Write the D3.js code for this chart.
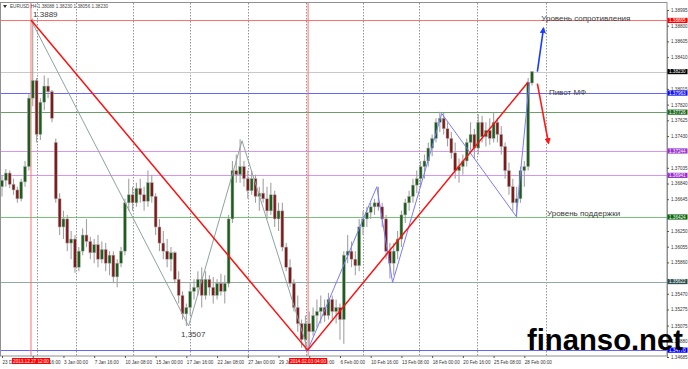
<!DOCTYPE html>
<html>
<head>
<meta charset="utf-8">
<script src="https://cdnjs.cloudflare.com/ajax/libs/d3/7.8.5/d3.min.js"></script>
<style>
  body { margin: 0; background: #fff; }
  svg { display: block; }
  text { font-family: "Liberation Sans", Arial, sans-serif; }
</style>
</head>
<body>
<svg id="chart"></svg>
<script>
// EURUSD H4, one candle = two H4 bars (8h), open/high/low/close
const candles = [
  [1.3680,1.3695,1.3668,1.3688],[1.3688,1.3702,1.3680,1.3697],[1.3697,1.3700,1.3678,1.3683],
  [1.3683,1.3690,1.3670,1.3676],[1.3676,1.3680,1.3660,1.3665],[1.3665,1.3690,1.3662,1.3686],
  [1.3686,1.3712,1.3680,1.3705],[1.3705,1.3795,1.3700,1.3790],[1.3790,1.3889,1.3780,1.3812],
  [1.3812,1.3815,1.3735,1.3745],[1.3745,1.3790,1.3738,1.3785],[1.3785,1.3818,1.3775,1.3805],
  [1.3805,1.3815,1.3790,1.3798],[1.3798,1.3800,1.3760,1.3765],[1.3735,1.3740,1.3660,1.3665],
  [1.3665,1.3672,1.3620,1.3630],[1.3630,1.3650,1.3615,1.3640],[1.3640,1.3645,1.3600,1.3610],
  [1.3610,1.3625,1.3590,1.3615],[1.3615,1.3620,1.3573,1.3580],[1.3580,1.3605,1.3575,1.3600],
  [1.3600,1.3628,1.3595,1.3620],[1.3620,1.3640,1.3605,1.3612],[1.3612,1.3618,1.3590,1.3598],
  [1.3598,1.3615,1.3585,1.3608],[1.3608,1.3620,1.3580,1.3590],[1.3590,1.3612,1.3585,1.3602],
  [1.3602,1.3610,1.3575,1.3585],[1.3585,1.3600,1.3570,1.3595],[1.3595,1.3600,1.3560,1.3568],
  [1.3568,1.3590,1.3555,1.3585],[1.3585,1.3605,1.3580,1.3600],[1.3600,1.3665,1.3595,1.3660],
  [1.3660,1.3690,1.3650,1.3670],[1.3670,1.3680,1.3650,1.3660],[1.3660,1.3685,1.3655,1.3678],
  [1.3678,1.3690,1.3660,1.3670],[1.3670,1.3680,1.3650,1.3662],[1.3662,1.3700,1.3655,1.3685],
  [1.3685,1.3695,1.3660,1.3668],[1.3668,1.3672,1.3620,1.3630],[1.3630,1.3640,1.3600,1.3610],
  [1.3610,1.3625,1.3590,1.3600],[1.3600,1.3615,1.3580,1.3590],[1.3590,1.3605,1.3575,1.3598],
  [1.3598,1.3600,1.3560,1.3565],[1.3565,1.3575,1.3535,1.3545],[1.3545,1.3550,1.3515,1.3522],
  [1.3522,1.3535,1.3507,1.3530],[1.3530,1.3560,1.3520,1.3550],[1.3550,1.3565,1.3540,1.3555],
  [1.3555,1.3575,1.3545,1.3565],[1.3565,1.3580,1.3530,1.3545],[1.3545,1.3575,1.3540,1.3565],
  [1.3565,1.3570,1.3545,1.3555],[1.3555,1.3568,1.3535,1.3545],[1.3545,1.3565,1.3540,1.3560],
  [1.3560,1.3572,1.3545,1.3550],[1.3550,1.3570,1.3535,1.3560],[1.3560,1.3645,1.3555,1.3640],
  [1.3640,1.3712,1.3635,1.3700],[1.3700,1.3720,1.3685,1.3695],[1.3695,1.3739,1.3685,1.3705],
  [1.3705,1.3712,1.3680,1.3690],[1.3690,1.3700,1.3665,1.3675],[1.3675,1.3700,1.3670,1.3690],
  [1.3690,1.3695,1.3660,1.3668],[1.3668,1.3680,1.3650,1.3672],[1.3672,1.3690,1.3660,1.3665],
  [1.3665,1.3680,1.3640,1.3650],[1.3650,1.3685,1.3645,1.3670],[1.3670,1.3675,1.3630,1.3640],
  [1.3640,1.3660,1.3625,1.3650],[1.3650,1.3660,1.3600,1.3605],[1.3605,1.3610,1.3575,1.3580],
  [1.3580,1.3590,1.3555,1.3560],[1.3560,1.3565,1.3525,1.3530],[1.3530,1.3545,1.3500,1.3510],
  [1.3510,1.3515,1.3480,1.3490],[1.3490,1.3520,1.3477,1.3510],[1.3510,1.3525,1.3480,1.3500],
  [1.3500,1.3530,1.3495,1.3520],[1.3520,1.3540,1.3505,1.3525],[1.3525,1.3545,1.3510,1.3530],
  [1.3530,1.3540,1.3512,1.3520],[1.3520,1.3548,1.3515,1.3540],[1.3540,1.3545,1.3515,1.3525],
  [1.3525,1.3540,1.3510,1.3530],[1.3530,1.3535,1.3490,1.3515],[1.3515,1.3600,1.3485,1.3595],
  [1.3595,1.3620,1.3585,1.3600],[1.3600,1.3612,1.3580,1.3590],[1.3590,1.3600,1.3570,1.3582],
  [1.3582,1.3640,1.3575,1.3630],[1.3630,1.3650,1.3620,1.3640],[1.3640,1.3655,1.3630,1.3648],
  [1.3648,1.3660,1.3640,1.3655],[1.3655,1.3665,1.3645,1.3660],[1.3660,1.3680,1.3650,1.3655],
  [1.3655,1.3660,1.3630,1.3640],[1.3640,1.3645,1.3590,1.3600],[1.3600,1.3610,1.3566,1.3585],
  [1.3585,1.3610,1.3570,1.3600],[1.3600,1.3625,1.3590,1.3615],[1.3615,1.3650,1.3605,1.3645],
  [1.3645,1.3665,1.3635,1.3660],[1.3660,1.3675,1.3650,1.3668],[1.3668,1.3690,1.3660,1.3682],
  [1.3682,1.3700,1.3672,1.3690],[1.3690,1.3712,1.3680,1.3705],[1.3705,1.3720,1.3690,1.3712],
  [1.3712,1.3735,1.3705,1.3728],[1.3728,1.3745,1.3718,1.3740],[1.3740,1.3765,1.3735,1.3760],
  [1.3760,1.3773,1.3748,1.3765],[1.3765,1.3772,1.3745,1.3752],[1.3752,1.3760,1.3730,1.3740],
  [1.3740,1.3748,1.3715,1.3722],[1.3722,1.3735,1.3690,1.3700],[1.3700,1.3715,1.3685,1.3705],
  [1.3705,1.3720,1.3695,1.3712],[1.3712,1.3740,1.3705,1.3735],[1.3735,1.3760,1.3725,1.3745],
  [1.3745,1.3752,1.3715,1.3728],[1.3728,1.3770,1.3720,1.3760],[1.3760,1.3768,1.3735,1.3742],
  [1.3742,1.3760,1.3730,1.3750],[1.3750,1.3765,1.3732,1.3740],[1.3740,1.3772,1.3735,1.3760],
  [1.3760,1.3765,1.3735,1.3745],[1.3745,1.3755,1.3720,1.3730],[1.3730,1.3735,1.3690,1.3700],
  [1.3700,1.3710,1.3670,1.3680],[1.3680,1.3690,1.3650,1.3660],[1.3660,1.3680,1.3642,1.3665],
  [1.3665,1.3705,1.3660,1.3700],[1.3700,1.3712,1.3680,1.3705],[1.3705,1.3815,1.3700,1.3809],
  [1.38088,1.38230,1.38056,1.38230]
];

const priceTicks = [1.38995,1.38800,1.38605,1.38410,1.38015,1.37820,1.37625,1.37430,1.37035,
  1.36840,1.36645,1.36250,1.36055,1.35860,1.35470,1.35275,1.35075,1.34880,1.34685];

const levelPrices = [1.38865,1.38230,1.37963,1.37726,1.37244,1.36941,1.36424,1.35622,1.34770];
const levelNames = ["res","bid","pivot","g1","v1","v2","sup","gs","low"];

const timeTicks = [0,8,16,24,32,40,48,56,64,72,80,88,96,104,112,120,128,136];
const timeLabels = ["23 Dec 2013","30 Dec 16:00","3 Jan 00:00","7 Jan 16:00","10 Jan 08:00",
  "15 Jan 00:00","17 Jan 16:00","22 Jan 08:00","27 Jan 00:00","29 Jan 16:00","3 Feb 08:00",
  "6 Feb 00:00","10 Feb 16:00","13 Feb 08:00","18 Feb 00:00","20 Feb 16:00","25 Feb 08:00",
  "28 Feb 00:00"];

const weekGrid = [9.1,19.3,34.1,49,64,79.2,94,108.7,123.7,141.7];
const cursorIdx = [7.55,79.7];
const cursorLabels = ["2013.12.27 12:00","2014.02.03 04:00"];

// waves: [index, price]
const grayWave = [[7.55,1.3887],[48.6,1.3507],[62.5,1.3737],[79.6,1.3478]];
const redWave  = [[7.55,1.3887],[79.6,1.3477],[137.0,1.3810]];
const blueWave = [[79.7,1.3478],[97.6,1.3680],[101.7,1.3561],[114.5,1.3771],[133.9,1.3643],[137.3,1.3810]];
const upArrow   = [[139.4,1.3823],[141.0,1.3877]];
const downArrow = [[139.4,1.3808],[142.3,1.3734]];

const header = "EURUSD,H4  1.38088 1.38230 1.38056 1.38230";
const notes = [
  {i:140.4, p:1.3886, t:"Уровень сопротивления"},
  {i:142.4, p:1.3794, t:"Пивот МФ"},
  {i:141.9, p:1.3644, t:"Уровень поддержки"},
  {i:8.1,   p:1.3891, t:"1.3889"},
  {i:46.6,  p:1.3493, t:"1,3507"}
];

// ---- layout
const W = 688, H = 369;
const plot = {l: 1, r: 667, t: 3, b: 356};
const lineColor = {res:"#ff7070", bid:"#c8c8c8", pivot:"#6464ff", g1:"#6a9f6a", v1:"#d596f2",
  v2:"#d596f2", sup:"#78c278", gs:"#93aaa3", low:"#6464ff"};
const boxColor = {res:"#ff0000", bid:"#000000", pivot:"#1010ff", g1:"#1e6b1e", v1:"#9932cc",
  v2:"#9932cc", sup:"#0a640a", gs:"#2f4f4f", low:"#0000ff"};

const svg = d3.select("#chart").attr("width", W).attr("height", H);
svg.append("rect").attr("width", W).attr("height", H).attr("fill", "#fff");

const x = d3.scaleLinear().domain([0, 138]).range([2, 532]);
const y = d3.scaleLinear().domain([1.34685, 1.38995]).range([357, 10]);

svg.append("defs").append("clipPath").attr("id", "clip")
  .append("rect").attr("x", plot.l).attr("y", plot.t)
  .attr("width", plot.r - plot.l).attr("height", plot.b - plot.t);

const g = svg.append("g").attr("clip-path", "url(#clip)");

// weekly dotted grid
g.selectAll(".vgrid").data(weekGrid).join("line")
  .attr("x1", d => Math.round(x(d)) + 0.5).attr("x2", d => Math.round(x(d)) + 0.5)
  .attr("y1", plot.t).attr("y2", plot.b)
  .attr("stroke", "#7a7a7a").attr("stroke-width", 0.8).attr("stroke-dasharray", "1.5,1.5");

// horizontal levels
g.selectAll(".lvl").data(levelPrices).join("line")
  .attr("x1", plot.l).attr("x2", plot.r)
  .attr("y1", d => Math.round(y(d)) + 0.5).attr("y2", d => Math.round(y(d)) + 0.5)
  .attr("stroke", (d, i) => lineColor[levelNames[i]]).attr("stroke-width", 1);

// cursor verticals
g.selectAll(".cur").data(cursorIdx).join("line")
  .attr("x1", d => x(d)).attr("x2", d => x(d))
  .attr("y1", plot.t).attr("y2", plot.b)
  .attr("stroke", "#ff7070").attr("stroke-width", 1);

// candles
const bw = 2.9;
const cg = g.append("g");
cg.selectAll(".wick").data(candles).join("line")
  .attr("x1", (d, i) => x(i)).attr("x2", (d, i) => x(i))
  .attr("y1", d => y(d[1])).attr("y2", d => y(d[2]))
  .attr("stroke", "#a2a2a2").attr("stroke-width", 1.1);
cg.selectAll(".body").data(candles).join("rect")
  .attr("x", (d, i) => x(i) - bw / 2).attr("width", bw)
  .attr("y", d => y(Math.max(d[0], d[3])))
  .attr("height", d => Math.max(0.8, Math.abs(y(d[0]) - y(d[3]))))
  .attr("fill", d => d[3] >= d[0] ? "#1d5e1d" : "#7d1a1a")
  .attr("stroke", "#b0b0b0").attr("stroke-width", 0.5);

// waves
const line = d3.line().x(d => x(d[0])).y(d => y(d[1]));
g.append("path").attr("d", line(grayWave)).attr("fill", "none")
  .attr("stroke", "#8ea3a0").attr("stroke-width", 1);
g.append("path").attr("d", line(blueWave)).attr("fill", "none")
  .attr("stroke", "#7a7aff").attr("stroke-width", 1);
g.append("path").attr("d", line(redWave)).attr("fill", "none")
  .attr("stroke", "#ff1010").attr("stroke-width", 1.5);

// arrows
const defs = svg.select("defs");
[["ab", "#1a3cff"], ["ar", "#ff1a1a"]].forEach(([id, c]) => {
  defs.append("marker").attr("id", id).attr("viewBox", "0 0 10 10")
    .attr("refX", 8).attr("refY", 5).attr("markerWidth", 4).attr("markerHeight", 4)
    .attr("orient", "auto").append("path").attr("d", "M0,0L10,5L0,10z").attr("fill", c);
});
g.append("path").attr("d", line(upArrow)).attr("stroke", "#1a3cff").attr("stroke-width", 1.6)
  .attr("fill", "none").attr("marker-end", "url(#ab)");
g.append("path").attr("d", line(downArrow)).attr("stroke", "#ff1a1a").attr("stroke-width", 1.6)
  .attr("fill", "none").attr("marker-end", "url(#ar)");

// text notes
g.selectAll(".note").data(notes).join("text")
  .attr("x", d => x(d.i)).attr("y", d => y(d.p))
  .attr("font-size", 8).attr("fill", "#3a3a3a").text(d => d.t);

// frame
svg.append("rect").attr("x", 0.5).attr("y", 2.5).attr("width", plot.r - 0.5).attr("height", plot.b - 2.5)
  .attr("fill", "none").attr("stroke", "#909090").attr("stroke-width", 1);

// header
svg.append("path").attr("d", "M3,5L7,5L5,8z").attr("fill", "#333");
svg.append("text").attr("x", 10).attr("y", 8).attr("font-size", 4.6).attr("fill", "#444").text(header);

// right price axis
const yAxis = d3.axisRight(y).tickValues(priceTicks).tickSize(2).tickPadding(2)
  .tickFormat(d3.format(".5f"));
const ya = svg.append("g").attr("transform", `translate(${plot.r},0)`).call(yAxis);
ya.select(".domain").attr("stroke", "#909090");
ya.selectAll(".tick line").attr("stroke", "#555");
ya.selectAll(".tick text").attr("font-size", 4.6).attr("fill", "#333")
  .attr("font-family", "Liberation Sans, Arial, sans-serif");

// bottom time axis
const xAxis = d3.axisBottom(x).tickValues(timeTicks).tickSize(2).tickPadding(3)
  .tickFormat((d, i) => timeLabels[i]);
const xa = svg.append("g").attr("transform", `translate(0,${plot.b})`).call(xAxis);
xa.select(".domain").remove();
xa.selectAll(".tick line").attr("stroke", "#555");
xa.selectAll(".tick text").attr("font-size", 4.6).attr("fill", "#333").attr("text-anchor", "start")
  .attr("dx", 0).attr("font-family", "Liberation Sans, Arial, sans-serif");

// price boxes
const boxes = svg.append("g");
levelPrices.forEach((p, i) => {
  const yy = y(p);
  boxes.append("rect").attr("x", plot.r + 0.5).attr("y", yy - 2.6).attr("width", 20).attr("height", 5.2)
    .attr("fill", boxColor[levelNames[i]]);
  boxes.append("text").attr("x", plot.r + 2).attr("y", yy + 1.7).attr("font-size", 4.6)
    .attr("fill", "#fff").text(d3.format(".5f")(p));
});

// time boxes for cursors
cursorIdx.forEach((c, i) => {
  const cx = x(c);
  boxes.append("rect").attr("x", cx - 19).attr("y", plot.b + 2).attr("width", 38).attr("height", 6)
    .attr("fill", "#ff0000");
  boxes.append("text").attr("x", cx).attr("y", plot.b + 6.6).attr("font-size", 4.6)
    .attr("text-anchor", "middle").attr("fill", "#fff").text(cursorLabels[i]);
});

// watermark
svg.append("text").attr("x", 527).attr("y", 350).attr("font-size", 30)
  .attr("font-family", "DejaVu Sans, sans-serif").attr("font-weight", "bold")
  .attr("fill", "#000").attr("textLength", 156).attr("lengthAdjust", "spacingAndGlyphs")
  .text("finanso.net");
</script>
</body>
</html>
